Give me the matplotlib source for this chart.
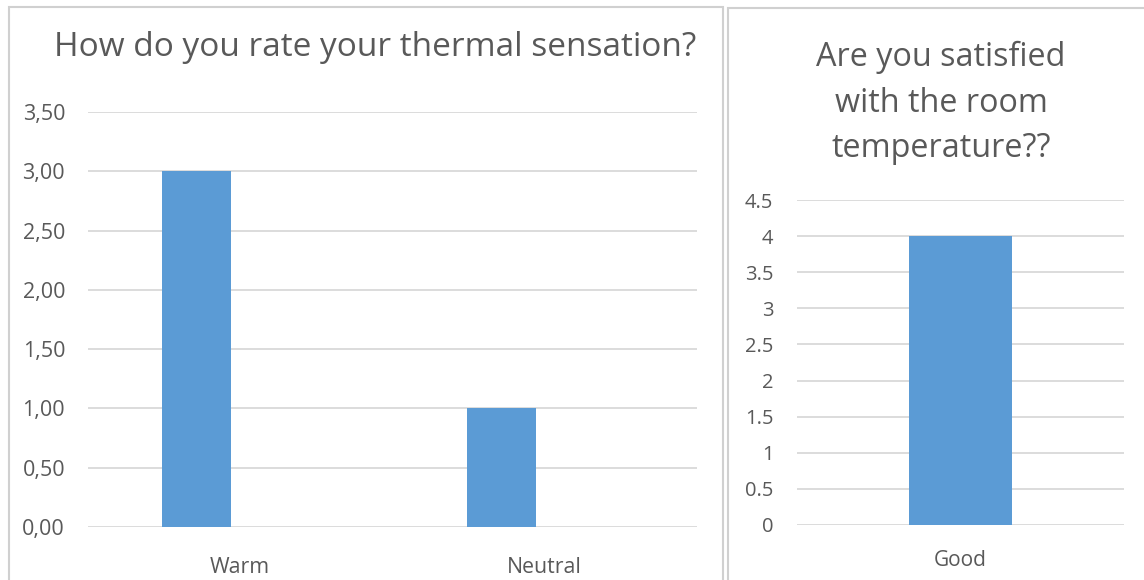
import matplotlib
matplotlib.use("Agg")
import matplotlib.pyplot as plt
from matplotlib.patches import Rectangle
from matplotlib.ticker import FuncFormatter

# survey answers
thermal_labels = ["Warm", "Neutral"]
thermal_counts = [3.0, 1.0]
thermal_title = "How do you rate your thermal sensation?"

satisfied_labels = ["Good"]
satisfied_counts = [4.0]
satisfied_title = "Are you satisfied\nwith the room\ntemperature??"

BAR = "#5B9BD5"
GRID = "#D9D9D9"
TEXT = "#595959"
W, H = 1144, 580

plt.rcParams["font.family"] = ["Open Sans", "DejaVu Sans"]

fig = plt.figure(figsize=(W / 100, H / 100), dpi=100)


def px_axes(x0, y_top, x1, y_bot):
    return fig.add_axes([x0 / W, (H - y_bot) / H, (x1 - x0) / W, (y_bot - y_top) / H])


# panel frames
for x0, y0, x1 in [(9, 7, 723), (728, 8, 1150)]:
    fig.patches.append(Rectangle((x0 / W, -0.05), (x1 - x0) / W, (H - y0) / H + 0.05,
                                 transform=fig.transFigure, fill=False,
                                 edgecolor="#D0D0D0", linewidth=1.5))


def style(ax, ymax, step, fmt, tick_size, tick_pad, cat_size, cat_pad):
    ax.set_ylim(0, ymax)
    ticks = [i * step for i in range(int(round(ymax / step)) + 1)]
    ax.set_yticks(ticks)
    ax.yaxis.set_major_formatter(FuncFormatter(fmt))
    ax.grid(axis="y", color=GRID, linewidth=1.3)
    ax.set_axisbelow(True)
    for s in ax.spines.values():
        s.set_visible(False)
    ax.tick_params(axis="y", length=0, labelsize=tick_size, labelcolor=TEXT, pad=tick_pad)
    ax.tick_params(axis="x", length=0, labelsize=cat_size, labelcolor=TEXT, pad=cat_pad)


# left chart
ax1 = px_axes(88, 112, 697, 527)
x1 = list(range(len(thermal_labels)))
ax1.bar([x - 0.143 for x in x1], thermal_counts, width=0.227, color=BAR, zorder=3)
ax1.set_xlim(-0.5, len(thermal_labels) - 0.5)
ax1.set_xticks(x1)
ax1.set_xticklabels(thermal_labels)
style(ax1, 3.5, 0.5, lambda v, p: f"{v:.2f}".replace(".", ","), 15.5, 16.5, 15.3, 21.5)
fig.text(375 / W, 1 - 48 / H, thermal_title, ha="center", va="center",
         fontsize=24, color=TEXT)

# right chart
ax2 = px_axes(797, 200, 1124, 525)
x2 = list(range(len(satisfied_labels)))
ax2.bar(x2, satisfied_counts, width=0.312, color=BAR, zorder=3)
ax2.set_xlim(-0.5, len(satisfied_labels) - 0.5)
ax2.set_xticks(x2)
ax2.set_xticklabels(satisfied_labels)
style(ax2, 4.5, 0.5, lambda v, p: f"{v:g}", 14.5, 17, 15, 18)
fig.text(941 / W, 1 - 103 / H, satisfied_title, ha="center", va="center",
         fontsize=23.3, color=TEXT, linespacing=1.5)

fig.savefig("out.png", dpi=100)
